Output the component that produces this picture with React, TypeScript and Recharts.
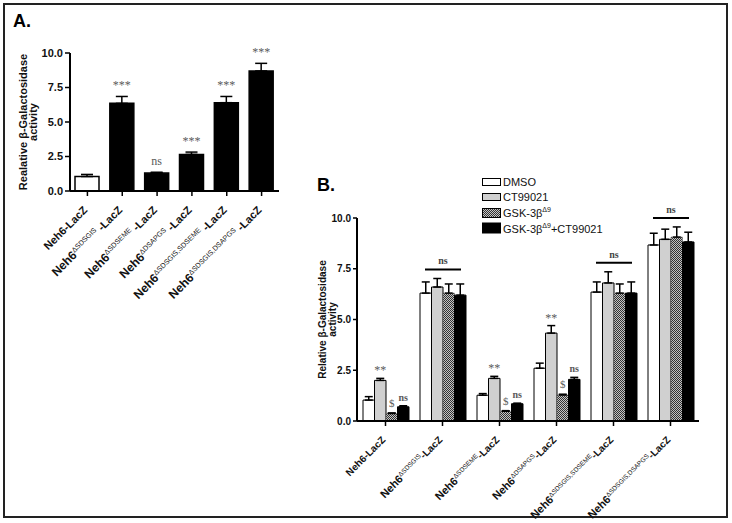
import { BarChart, Bar, XAxis, YAxis, ErrorBar, LabelList, Cell } from "recharts";

const sans = '"Liberation Sans", Arial, sans-serif';
const serif = '"Liberation Serif", "Times New Roman", serif';

// constructs on both x axes
const constructs = [
    "Neh6-LacZ",
    "Neh6ΔSDSGIS-LacZ",
    "Neh6ΔSDSEME-LacZ",
    "Neh6ΔDSAPGS-LacZ",
    "Neh6ΔSDSGIS,SDSEME-LacZ",
    "Neh6ΔSDSGIS,DSAPGS-LacZ",
];
const deletions = ["", "ΔSDSGIS", "ΔSDSEME", "ΔDSAPGS", "ΔSDSGIS,SDSEME", "ΔSDSGIS,DSAPGS"];
const yTicks = [0, 2.5, 5, 7.5, 10];

// panel A
const activityA = [1.05, 6.35, 1.3, 2.65, 6.4, 8.7];
const semA = [0.15, 0.5, 0.06, 0.17, 0.45, 0.55];
const sigA = ["", "***", "ns", "***", "***", "***"];

// panel B
const dmso = [1.03, 6.3, 1.27, 2.6, 6.35, 8.67];
const dmsoSem = [0.17, 0.55, 0.08, 0.25, 0.5, 0.58];
const ct99021 = [2.0, 6.6, 2.1, 4.33, 6.8, 8.95];
const ct99021Sem = [0.1, 0.42, 0.1, 0.37, 0.55, 0.5];
const gsk = [0.37, 6.3, 0.48, 1.28, 6.3, 9.06];
const gskSem = [0.03, 0.45, 0.03, 0.04, 0.45, 0.5];
const gskCt = [0.7, 6.2, 0.85, 2.05, 6.3, 8.82];
const gskCtSem = [0.05, 0.55, 0.03, 0.1, 0.55, 0.48];
const ctSig = ["**", "", "**", "**", "", ""];
const gskSig = ["$", "", "$", "$", "", ""];
const gskCtSig = ["ns", "", "ns", "ns", "", ""];
const groupSig = ["", "ns", "", "", "ns", "ns"];

const dataA = constructs.map((name, i) => ({
    name,
    i,
    value: activityA[i],
    err: [0, semA[i]],
}));

const dataB = constructs.map((name, i) => ({
    name,
    i,
    dmso: dmso[i],
    dmsoErr: [0, dmsoSem[i]],
    ct: ct99021[i],
    ctErr: [0, ct99021Sem[i]],
    gsk: gsk[i],
    gskErr: [0, gskSem[i]],
    gskCt: gskCt[i],
    gskCtErr: [0, gskCtSem[i]],
}));

function ConstructTick({ x, y, payload, size, spaced }: any) {
    const idx = payload.index ?? constructs.indexOf(payload.value);
    const d = deletions[idx];
    const ax = x - 2;
    const ay = y + 10;
    return (
        <text
            x={ax}
            y={ay}
            transform={`rotate(-45, ${ax}, ${ay})`}
            textAnchor="end"
            fontFamily={sans}
            fontWeight="bold"
            fontSize={size}
            fill="#111"
            dy="0.35em"
        >
            {d ? (
                <>
                    <tspan fontSize={size * 1.1}>Neh6</tspan>
                    <tspan fontSize={size * 0.65} fontWeight="normal" dy={-size * 0.4}>
                        {d}
                    </tspan>
                    <tspan dy={size * 0.4}>{spaced ? " -LacZ" : "-LacZ"}</tspan>
                </>
            ) : (
                "Neh6-LacZ"
            )}
        </text>
    );
}

function AxisTitle({ viewBox, first, shift, size }: any) {
    const cx = viewBox.x + shift;
    const cy = viewBox.y + viewBox.height / 2;
    return (
        <text
            transform={`rotate(-90 ${cx} ${cy})`}
            x={cx}
            y={cy}
            textAnchor="middle"
            fontFamily={sans}
            fontWeight="bold"
            fontSize={size}
            fill="#111"
        >
            <tspan x={cx} dy={0}>{first}</tspan>
            <tspan x={cx} dy={size * 0.95}>activity</tspan>
        </text>
    );
}

// text above a bar's error cap
function sigText(marks: string[], values: number[], sems: number[], gap: number, size: number, bold: boolean) {
    return (p: any) => {
        const i = p.value;
        const mark = marks[i];
        if (!mark) return null;
        const vb = p.viewBox ?? p;
        const top = Math.min(vb.y, vb.y + vb.height);
        const unit = Math.abs(vb.height) / values[i];
        const capTop = top - sems[i] * unit;
        return (
            <text
                x={vb.x + vb.width / 2}
                y={capTop - gap}
                textAnchor="middle"
                fontFamily={serif}
                fontWeight={bold ? "bold" : "normal"}
                fontSize={size}
                fill="#5a5a5a"
            >
                {mark}
            </text>
        );
    };
}

// "ns" bracket over a whole group, drawn from the third bar
function groupText(p: any) {
    const i = p.value;
    if (!groupSig[i]) return null;
    const vb = p.viewBox ?? p;
    const base = Math.max(vb.y, vb.y + vb.height);
    const unit = Math.abs(vb.height) / gsk[i];
    const maxTop = Math.max(
        dmso[i] + dmsoSem[i],
        ct99021[i] + ct99021Sem[i],
        gsk[i] + gskSem[i],
        gskCt[i] + gskCtSem[i]
    );
    const ly = base - maxTop * unit - 9;
    const cx = vb.x;
    return (
        <g>
            <line x1={cx - 18} x2={cx + 18} y1={ly} y2={ly} stroke="#000" strokeWidth={2} />
            <text x={cx} y={ly - 5} textAnchor="middle" fontFamily={serif} fontWeight="bold" fontSize={10} fill="#444">
                {groupSig[i]}
            </text>
        </g>
    );
}

const legendItems = [
    { name: "DMSO", sup: "", tail: "", fill: "#fff", h: 7 },
    { name: "CT99021", sup: "", tail: "", fill: "#d0d0d0", h: 7 },
    { name: "GSK-3β", sup: "Δ9", tail: "", fill: "url(#checkLegend)", h: 9 },
    { name: "GSK-3β", sup: "Δ9", tail: "+CT99021", fill: "#000", h: 10 },
];

export default function App() {
    return (
        <div
            style={{
                position: "absolute",
                left: 0,
                top: 0,
                width: 732,
                height: 523,
                background: "#fff",
                fontFamily: sans,
            }}
        >
            <div
                style={{
                    position: "absolute",
                    left: 3,
                    top: 3,
                    width: 721,
                    height: 511,
                    border: "2px solid #222",
                }}
            />
            <div style={{ position: "absolute", left: 13, top: 11, fontSize: 18, fontWeight: "bold" }}>A.</div>
            <div style={{ position: "absolute", left: 317, top: 175, fontSize: 18, fontWeight: "bold" }}>B.</div>

            {/* panel A */}
            <div style={{ position: "absolute", left: 0, top: 0 }}>
                <BarChart
                    width={300}
                    height={320}
                    data={dataA}
                    margin={{ top: 53, right: 21, left: 0, bottom: 19 }}
                    barSize={24}
                >
                    <XAxis
                        dataKey="name"
                        interval={0}
                        height={110}
                        axisLine={{ stroke: "#000", strokeWidth: 2 }}
                        tickLine={{ stroke: "#000", strokeWidth: 1.5 }}
                        tickSize={5}
                        tick={(p: any) => <ConstructTick {...p} size={11} spaced />}
                    />
                    <YAxis
                        domain={[0, 10]}
                        ticks={yTicks}
                        width={70}
                        tickSize={5}
                        axisLine={{ stroke: "#000", strokeWidth: 2 }}
                        tickLine={{ stroke: "#000", strokeWidth: 1.5 }}
                        tickFormatter={(v: number) => v.toFixed(1)}
                        tick={{ fontSize: 11, fontWeight: "bold", fill: "#111", fontFamily: sans }}
                        label={<AxisTitle first="Realative β-Galactosidase" shift={27} size={11} />}
                    />
                    <Bar dataKey="value" stroke="#000" strokeWidth={1.5} isAnimationActive={false}>
                        {dataA.map((d) => (
                            <Cell key={d.name} fill={d.i === 0 ? "#fff" : "#000"} />
                        ))}
                        <ErrorBar dataKey="err" direction="y" width={6} stroke="#000" strokeWidth={1.5} />
                        <LabelList dataKey="i" content={sigText(sigA, activityA, semA, 7, 12, false)} />
                    </Bar>
                </BarChart>
            </div>

            {/* panel B */}
            <div style={{ position: "absolute", left: 300, top: 150 }}>
                <BarChart
                    width={420}
                    height={373}
                    data={dataB}
                    margin={{ top: 68, right: 21, left: 0, bottom: 7 }}
                    barSize={11.5}
                    barGap={0}
                >
                    <defs>
                        <pattern id="checkB" width={2} height={2} patternUnits="userSpaceOnUse">
                            <rect width={2} height={2} fill="#c4c4c4" />
                            <rect width={1} height={1} fill="#333" />
                            <rect x={1} y={1} width={1} height={1} fill="#333" />
                        </pattern>
                    </defs>
                    <XAxis
                        dataKey="name"
                        interval={0}
                        height={95}
                        axisLine={{ stroke: "#000", strokeWidth: 2 }}
                        tickLine={{ stroke: "#000", strokeWidth: 1.5 }}
                        tickSize={5}
                        tick={(p: any) => <ConstructTick {...p} size={10} />}
                    />
                    <YAxis
                        domain={[0, 10]}
                        ticks={yTicks}
                        width={57}
                        tickSize={4}
                        axisLine={{ stroke: "#000", strokeWidth: 2 }}
                        tickLine={{ stroke: "#000", strokeWidth: 1.5 }}
                        tickFormatter={(v: number) => v.toFixed(1)}
                        tick={{ fontSize: 10, fontWeight: "bold", fill: "#111", fontFamily: sans }}
                        label={<AxisTitle first="Relative β-Galactosidase" shift={26} size={10} />}
                    />
                    <Bar dataKey="dmso" fill="#fff" stroke="#000" strokeWidth={1} isAnimationActive={false}>
                        <ErrorBar dataKey="dmsoErr" direction="y" width={4} stroke="#000" strokeWidth={1.5} />
                    </Bar>
                    <Bar dataKey="ct" fill="#d0d0d0" stroke="#000" strokeWidth={1} isAnimationActive={false}>
                        <ErrorBar dataKey="ctErr" direction="y" width={4} stroke="#000" strokeWidth={1.5} />
                        <LabelList dataKey="i" content={sigText(ctSig, ct99021, ct99021Sem, 4, 12, false)} />
                    </Bar>
                    <Bar dataKey="gsk" fill="url(#checkB)" stroke="#555" strokeWidth={0.5} isAnimationActive={false}>
                        <ErrorBar dataKey="gskErr" direction="y" width={4} stroke="#000" strokeWidth={1.5} />
                        <LabelList dataKey="i" content={sigText(gskSig, gsk, gskSem, 6, 11, false)} />
                        <LabelList dataKey="i" content={groupText} />
                    </Bar>
                    <Bar dataKey="gskCt" fill="#000" stroke="#000" strokeWidth={1} isAnimationActive={false}>
                        <ErrorBar dataKey="gskCtErr" direction="y" width={4} stroke="#000" strokeWidth={1.5} />
                        <LabelList dataKey="i" content={sigText(gskCtSig, gskCt, gskCtSem, 5, 10, true)} />
                    </Bar>
                </BarChart>
            </div>

            {/* legend for panel B */}
            <div style={{ position: "absolute", left: 482, top: 174, fontSize: 11, color: "#111" }}>
                <svg width={0} height={0} style={{ position: "absolute" }}>
                    <defs>
                        <pattern id="checkLegend" width={2} height={2} patternUnits="userSpaceOnUse">
                            <rect width={2} height={2} fill="#c4c4c4" />
                            <rect width={1} height={1} fill="#333" />
                            <rect x={1} y={1} width={1} height={1} fill="#333" />
                        </pattern>
                    </defs>
                </svg>
                {legendItems.map((it, k) => (
                    <div key={k} style={{ display: "flex", alignItems: "center", height: 15.5 }}>
                        <svg width={20} height={12} style={{ marginRight: 1 }}>
                            <rect
                                x={0.5}
                                y={(12 - it.h) / 2}
                                width={18}
                                height={it.h}
                                fill={it.fill}
                                stroke="#000"
                                strokeWidth={1}
                            />
                        </svg>
                        <span>
                            {it.name}
                            {it.sup && <sup style={{ fontSize: 7 }}>{it.sup}</sup>}
                            {it.tail}
                        </span>
                    </div>
                ))}
            </div>
        </div>
    );
}
